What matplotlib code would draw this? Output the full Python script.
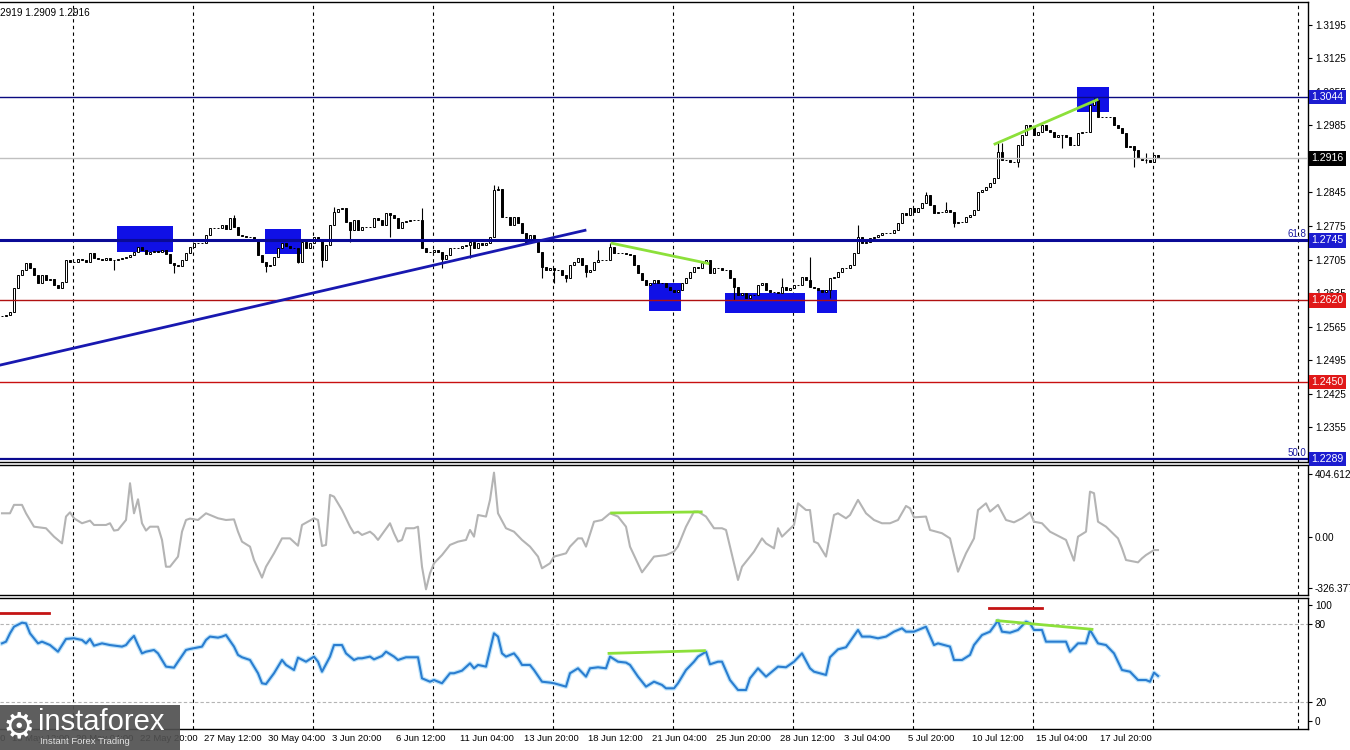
import matplotlib
matplotlib.use('Agg')
import matplotlib.pyplot as plt
from matplotlib.patches import Rectangle
from matplotlib.transforms import blended_transform_factory
import numpy as np

plt.rcParams['font.family'] = ['Liberation Sans', 'DejaVu Sans']

# H4 closes, one per bar
close = [
    1.2587, 1.2589, 1.2596, 1.2646, 1.2673, 1.2683, 1.2698, 1.2687, 1.2673, 1.2656,
    1.2673, 1.2662, 1.2664, 1.2652, 1.2646, 1.2658, 1.2704, 1.2700, 1.2700, 1.2706,
    1.2704, 1.2700, 1.2719, 1.2708, 1.2706, 1.2704, 1.2708, 1.2704, 1.2704, 1.2706,
    1.2708, 1.2710, 1.2714, 1.2721, 1.2731, 1.2725, 1.2716, 1.2721, 1.2723, 1.2721,
    1.2725, 1.2716, 1.2698, 1.2693, 1.2691, 1.2704, 1.2719, 1.2731, 1.2739, 1.2739,
    1.2739, 1.2756, 1.2771, 1.2771, 1.2771, 1.2777, 1.2769, 1.2792, 1.2773, 1.2756,
    1.2754, 1.2752, 1.2752, 1.2746, 1.2714, 1.2700, 1.2691, 1.2693, 1.2710, 1.2729,
    1.2739, 1.2733, 1.2729, 1.2729, 1.2700, 1.2741, 1.2729, 1.2739, 1.2752, 1.2746,
    1.2704, 1.2735, 1.2777, 1.2804, 1.2810, 1.2812, 1.2783, 1.2766, 1.2787, 1.2766,
    1.2773, 1.2773, 1.2773, 1.2792, 1.2787, 1.2777, 1.2802, 1.2798, 1.2792, 1.2771,
    1.2783, 1.2785, 1.2787, 1.2787, 1.2787, 1.2729, 1.2721, 1.2721, 1.2725, 1.2721,
    1.2706, 1.2714, 1.2729, 1.2729, 1.2729, 1.2733, 1.2735, 1.2741, 1.2729, 1.2739,
    1.2735, 1.2739, 1.2752, 1.2850, 1.2852, 1.2794, 1.2794, 1.2777, 1.2794, 1.2781,
    1.2760, 1.2741, 1.2756, 1.2741, 1.2721, 1.2689, 1.2683, 1.2687, 1.2683, 1.2683,
    1.2673, 1.2666, 1.2693, 1.2700, 1.2708, 1.2693, 1.2679, 1.2683, 1.2700, 1.2704,
    1.2704, 1.2704, 1.2731, 1.2719, 1.2719, 1.2719, 1.2716, 1.2714, 1.2693, 1.2677,
    1.2662, 1.2652, 1.2656, 1.2662, 1.2656, 1.2656, 1.2648, 1.2641, 1.2637, 1.2641,
    1.2656, 1.2666, 1.2679, 1.2689, 1.2687, 1.2698, 1.2704, 1.2677, 1.2687, 1.2687,
    1.2683, 1.2683, 1.2666, 1.2648, 1.2631, 1.2635, 1.2625, 1.2631, 1.2631, 1.2652,
    1.2656, 1.2641, 1.2637, 1.2637, 1.2635, 1.2648, 1.2641, 1.2646, 1.2652, 1.2652,
    1.2668, 1.2662, 1.2648, 1.2646, 1.2641, 1.2637, 1.2641, 1.2666, 1.2668, 1.2679,
    1.2687, 1.2687, 1.2693, 1.2719, 1.2752, 1.2739, 1.2741, 1.2750, 1.2752, 1.2756,
    1.2760, 1.2760, 1.2760, 1.2766, 1.2781, 1.2802, 1.2798, 1.2812, 1.2804, 1.2812,
    1.2823, 1.2839, 1.2819, 1.2802, 1.2804, 1.2804, 1.2808, 1.2804, 1.2781, 1.2783,
    1.2783, 1.2794, 1.2798, 1.2808, 1.2846, 1.2850, 1.2856, 1.2864, 1.2875, 1.2929,
    1.2912, 1.2912, 1.2908, 1.2908, 1.2944, 1.2965, 1.2985, 1.2981, 1.2965, 1.2971,
    1.2985, 1.2975, 1.2971, 1.2960, 1.2965, 1.2965, 1.2960, 1.2944, 1.2944, 1.2969,
    1.2971, 1.2971, 1.3027, 1.3038, 1.3002, 1.3002, 1.3002, 1.3002, 1.2985, 1.2979,
    1.2969, 1.2940, 1.2942, 1.2933, 1.2916, 1.2912, 1.2912, 1.2908, 1.2923, 1.2916,
]

# visible wick extremes (bar: price)
high_wick = {58: 1.2798, 83: 1.2814, 105: 1.2812, 123: 1.2860, 124: 1.2858,
             149: 1.2725, 152: 1.2739, 195: 1.2666, 202: 1.2710, 214: 1.2777,
             231: 1.2846, 236: 1.2825, 249: 1.2950, 250: 1.2948, 272: 1.3027,
             273: 1.3042, 286: 1.2927}
low_wick = {28: 1.2683, 43: 1.2677, 66: 1.2679, 74: 1.2698, 80: 1.2689,
            87: 1.2741, 97: 1.2752, 110: 1.2687, 117: 1.2708, 135: 1.2666,
            138: 1.2656, 141: 1.2658, 146: 1.2668, 183: 1.2621, 207: 1.2625,
            238: 1.2773, 254: 1.2898, 265: 1.2937, 283: 1.2898, 286: 1.2906}

cci_bar = [0, 2, 3, 5, 6, 8, 11, 13, 15, 16, 17, 18, 20, 22, 23, 26, 27, 28, 29, 31,
           32, 33, 34, 35, 36, 37, 39, 40, 41, 42, 44, 45, 46, 47, 49, 51, 53, 54, 56, 58,
           59, 60, 62, 63, 65, 66, 68, 70, 72, 74, 75, 78, 79, 80, 81, 82, 83, 85, 87, 88,
           89, 90, 92, 93, 94, 97, 98, 99, 100, 101, 103, 104, 105, 106, 107, 108, 110, 112, 114, 116,
           117, 118, 119, 121, 122, 123, 124, 126, 128, 130, 132, 134, 135, 137, 138, 141, 142, 144, 145, 146,
           148, 150, 152, 154, 156, 157, 160, 163, 166, 168, 169, 171, 173, 174, 176, 178, 180, 181, 182, 184,
           185, 188, 190, 191, 193, 194, 195, 198, 199, 201, 202, 203, 204, 206, 208, 209, 211, 212, 214, 216,
           218, 220, 222, 224, 226, 227, 228, 231, 232, 235, 237, 239, 241, 243, 244, 246, 247, 249, 251, 253,
           255, 257, 258, 260, 262, 266, 268, 269, 271, 272, 273, 274, 276, 279, 280, 281, 284, 285, 286, 288,
           289]
cci_val = [152, 152, 206, 206, 152, 66, 56, 2, -41, 131, 158, 120, 88, 105, 77, 77, 88, 41, 45, 109,
           345, 152, 242, 88, 41, 66, 66, -19, -191, -191, -126, 34, 109, 118, 109, 152, 131, 120, 109, 113,
           34, -30, -62, -148, -261, -191, -105, -9, -9, -56, 77, 120, 109, -58, -51, 270, 259, 173, 66, 24,
           34, 13, 34, 13, -19, 88, 24, -30, -19, 56, 56, 66, -191, -336, -233, -169, -116, -51, -30, -19,
           45, 2, 141, 131, 238, 413, 152, 56, 34, -19, -62, -126, -201, -169, -126, -105, -62, -9, -9, -62,
           98, 109, 152, 131, 66, -62, -227, -126, -116, -94, -60, 66, 163, 163, 131, 56, 56, 45, -62, -276,
           -191, -94, -9, -41, -73, 56, 2, 77, 216, 173, 173, -30, -41, -126, 141, 152, 120, 141, 238, 152,
           109, 88, 88, 109, 199, 184, 126, 131, 45, 24, -9, -223, -105, -9, 173, 216, 163, 206, 109, 94,
           120, 158, 98, 88, 34, -19, -152, 2, 34, 291, 281, 98, 66, -9, -73, -148, -163, -137, -116, -84,
           -84]

rsi_bar = [0, 1, 2, 3, 5, 6, 7, 9, 10, 12, 14, 16, 18, 20, 21, 22, 23, 25, 27, 30,
           31, 32, 33, 34, 35, 36, 38, 39, 40, 41, 43, 44, 46, 47, 50, 51, 52, 54, 55, 56,
           58, 59, 60, 62, 64, 65, 66, 68, 70, 71, 73, 74, 76, 78, 79, 80, 82, 83, 85, 86,
           88, 89, 90, 92, 93, 95, 96, 98, 99, 101, 104, 105, 107, 108, 110, 112, 113, 115, 117, 118,
           119, 121, 123, 124, 125, 126, 128, 129, 130, 132, 133, 135, 137, 138, 141, 142, 144, 146, 147, 149,
           151, 152, 154, 156, 157, 159, 161, 163, 165, 166, 168, 169, 171, 173, 174, 176, 177, 179, 180, 182,
           184, 186, 187, 189, 191, 192, 194, 196, 198, 200, 202, 203, 206, 207, 209, 211, 214, 215, 217, 219,
           221, 223, 225, 226, 228, 231, 233, 234, 237, 238, 240, 242, 243, 245, 247, 249, 250, 252, 254, 256,
           257, 258, 260, 261, 264, 266, 267, 269, 271, 272, 274, 276, 278, 280, 282, 284, 286, 287, 288, 289]
rsi_val = [65.1, 66.4, 72.8, 77.9, 81.0, 80.5, 72.8, 65.1, 66.4, 63.8, 58.7, 68.5, 69.0, 67.7, 65.1, 68.5, 63.3, 65.1, 63.8, 62.6,
           63.8, 67.7, 70.8, 63.8, 57.4, 58.7, 60.0, 57.4, 52.3, 47.2, 46.4, 51.0, 60.0, 60.8, 62.6, 67.7, 70.3, 69.5, 70.3, 71.5,
           62.6, 56.2, 54.4, 52.3, 42.1, 34.4, 33.8, 42.1, 52.3, 48.5, 44.6, 54.1, 51.0, 54.9, 51.0, 43.3, 54.9, 63.8, 63.8, 57.4,
           52.3, 53.6, 53.6, 54.9, 52.8, 55.4, 58.7, 54.9, 52.3, 54.4, 54.4, 38.2, 35.6, 36.9, 34.4, 42.1, 42.1, 44.1, 49.7, 45.9,
           48.5, 47.2, 72.8, 70.3, 57.4, 54.9, 57.4, 53.6, 48.5, 48.5, 44.6, 35.6, 34.9, 34.4, 31.8, 42.1, 45.9, 39.5, 45.9, 46.7,
           45.9, 54.9, 51.0, 50.3, 48.5, 39.5, 31.8, 35.6, 33.1, 30.5, 30.5, 34.4, 44.6, 51.0, 54.9, 58.7, 49.0, 51.0, 51.0, 36.9,
           29.2, 29.2, 38.2, 45.9, 39.5, 42.1, 47.2, 46.7, 51.0, 57.4, 45.9, 43.3, 40.8, 54.4, 60.5, 62.1, 75.4, 70.3, 70.3, 69.0,
           70.3, 74.1, 76.7, 74.1, 74.1, 77.9, 63.8, 65.1, 62.6, 52.3, 52.3, 56.2, 63.8, 71.5, 74.1, 82.6, 74.1, 73.3, 75.4, 81.8,
           80.5, 75.4, 75.4, 66.4, 66.4, 66.4, 58.7, 65.1, 65.1, 75.4, 65.1, 63.8, 57.4, 44.6, 43.3, 36.9, 36.9, 35.6, 42.6, 40.0]

# levels: price, line colour, label box colour, width
levels = [1.3044, 1.2916, 1.2745, 1.2620, 1.2450, 1.2289]
level_line = ['#0a0a80', '#c0c0c0', '#0a0a96', '#b01010', '#c81010', '#0a0a90']
level_box = ['#1c1cd0', '#000000', '#1c1cd0', '#e01818', '#e01818', '#1c1cd0']
level_lw = [1.0, 1.0, 2.2, 1.0, 1.0, 1.6]
price_ticks = [1.3195, 1.3125, 1.3055, 1.2985, 1.2845, 1.2775, 1.2705, 1.2635,
               1.2565, 1.2495, 1.2425, 1.2355]

# boxes: (bar start, bar end, low, high)
boxes = [(28.75, 42.75, 1.2721, 1.2775), (65.75, 74.75, 1.2716, 1.2769),
         (161.75, 169.75, 1.2598, 1.2656), (180.75, 200.75, 1.2593, 1.2635),
         (203.75, 208.75, 1.2593, 1.2641), (268.75, 276.75, 1.3012, 1.3065)]
trend_bars = [-0.5, 145.75]
trend_price = [1.2485, 1.2766]
green1_bars = [152.5, 176.5]
green1_price = [1.2739, 1.2697]
green2_bars = [248.25, 273.75]
green2_price = [1.2946, 1.3038]
cci_green_bars = [152.4, 174.8]
cci_green_val = [154, 161]
rsi_red = [([-0.5, 11.75], [88.7, 88.7]), ([246.75, 259.9], [92.5, 92.5])]
rsi_green = [([151.75, 175.6], [57.4, 59.5]), ([248.75, 272.5], [82.6, 75.9])]

xlabel_bars = [-14, 2, 18, 34, 50, 66, 82, 98, 114, 130, 146, 162, 178, 194, 210, 226, 242, 258, 274]
xlabel_text = ['13 May 20:00', '15 May 12:00', '20 May 04:00', '22 May 20:00', '27 May 12:00',
               '30 May 04:00', '3 Jun 20:00', '6 Jun 12:00', '11 Jun 04:00', '13 Jun 20:00',
               '18 Jun 12:00', '21 Jun 04:00', '25 Jun 20:00', '28 Jun 12:00', '3 Jul 04:00',
               '5 Jul 20:00', '10 Jul 12:00', '15 Jul 04:00', '17 Jul 20:00']

W, H = 1350, 750
fig = plt.figure(figsize=(W / 100, H / 100), dpi=100)
fig.patch.set_facecolor('white')
aw = 1308 / W
ax_p = fig.add_axes([0, 1 - 462 / H, aw, 460 / H])
ax_c = fig.add_axes([0, 1 - 595 / H, aw, 130 / H])
ax_r = fig.add_axes([0, 1 - 729 / H, aw, 131 / H])

x0, x1 = -0.5, 326.5
grid_x = list(np.arange(17.75, 300, 30)) + [324]
for ax in (ax_p, ax_c, ax_r):
    ax.set_xlim(x0, x1)
    ax.set_xticks([])
    ax.spines['left'].set_visible(False)
    for s in ('top', 'bottom', 'right'):
        ax.spines[s].set_linewidth(1.0)
        ax.spines[s].set_color('black')
    ax.yaxis.tick_right()
    ax.tick_params(axis='y', direction='out', length=3, width=0.8, labelsize=7.2, pad=2)
    for gx in grid_x:
        ax.axvline(gx, color='black', lw=0.8, ls=(0, (3, 3)), zorder=1)

# ---- price panel
ax_p.set_ylim(1.2283, 1.3242)
ax_p.set_yticks(price_ticks)
ax_p.set_yticklabels(['%.4f' % t for t in price_ticks])

for b0, b1, lo, hi in boxes:
    ax_p.add_patch(Rectangle((b0, lo), b1 - b0, hi - lo, facecolor='#1010e6',
                             edgecolor='none', zorder=2))

n = len(close)
idx = np.arange(n)
opens = [close[0]] + close[:-1]
highs = [max(o, c) for o, c in zip(opens, close)]
lows = [min(o, c) for o, c in zip(opens, close)]
for k, v in high_wick.items():
    highs[k] = max(highs[k], v)
for k, v in low_wick.items():
    lows[k] = min(lows[k], v)
ax_p.vlines(idx, lows, highs, color='black', lw=0.8, zorder=3)
opens = np.array(opens)
closes = np.array(close)
up = closes >= opens
body = np.maximum(np.abs(closes - opens), 0.00006)
bottom = np.minimum(opens, closes)
ax_p.bar(idx[up], body[up], bottom=bottom[up], width=0.72, color='white',
         edgecolor='black', linewidth=0.7, zorder=4)
ax_p.bar(idx[~up], body[~up], bottom=bottom[~up], width=0.72, color='black',
         edgecolor='black', linewidth=0.7, zorder=4)

tr = blended_transform_factory(ax_p.transAxes, ax_p.transData)
for lv, lc, bc, lw in zip(levels, level_line, level_box, level_lw):
    ax_p.axhline(lv, color=lc, lw=lw, zorder=5)
    ax_p.text(1.0025, lv, '%.4f' % lv, transform=tr, ha='left', va='center', fontsize=7.6,
              color='white', clip_on=False, zorder=10,
              bbox=dict(boxstyle='square,pad=0.22', fc=bc, ec='none'))
ax_p.text(0.9985, 1.2745 + 0.0003, '61.8', transform=tr, ha='right', va='bottom',
          fontsize=7, color='#1a1aa0', zorder=6)
ax_p.text(0.9985, 1.2289 + 0.0003, '50.0', transform=tr, ha='right', va='bottom',
          fontsize=7, color='#1a1aa0', zorder=6)

ax_p.plot(trend_bars, trend_price, color='#1818b0', lw=2.0, zorder=5)
ax_p.plot(green1_bars, green1_price, color='#8ce03a', lw=2.0, zorder=5)
ax_p.plot(green2_bars, green2_price, color='#8ce03a', lw=2.0, zorder=5)
ax_p.text(0.0, 0.988, '2919 1.2909 1.2916', transform=ax_p.transAxes, ha='left',
          va='top', fontsize=7.2, color='black')

# ---- CCI panel
ax_c.set_ylim(-372.5, 462)
ax_c.set_yticks([404.6122, 0, -326.377])
ax_c.set_yticklabels(['404.6122', '0.00', '-326.377'])
ax_c.plot(cci_bar, cci_val, color='#b4b4b4', lw=1.5, zorder=3)
ax_c.plot(cci_green_bars, cci_green_val, color='#8ce03a', lw=2.0, zorder=4)

# ---- RSI panel
ax_r.set_ylim(-0.8, 100)
ax_r.set_yticks([94.6, 80, 20, 5.4])
ax_r.set_yticklabels(['100', '80', '20', '0'])
for lv in (80, 20):
    ax_r.axhline(lv, color='#b4b4b4', lw=0.8, ls=(0, (3, 2)), zorder=2)
ax_r.plot(rsi_bar, rsi_val, color='#bfe4fa', lw=3.2, zorder=3)
ax_r.plot(rsi_bar, rsi_val, color='#2a7dd0', lw=1.5, zorder=4)
for xs, ys in rsi_red:
    ax_r.plot(xs, ys, color='#c41414', lw=2.0, zorder=4)
for xs, ys in rsi_green:
    ax_r.plot(xs, ys, color='#8ce03a', lw=2.0, zorder=4)

trx = blended_transform_factory(ax_r.transData, ax_r.transAxes)
for b, t in zip(xlabel_bars, xlabel_text):
    ax_r.text(b + 0.6, -0.04, t, transform=trx, ha='left', va='top', fontsize=6.8,
              color='black', clip_on=False)

# ---- logo
fig.patches.append(Rectangle((0, 0), 180 / W, 45 / H, transform=fig.transFigure,
                             facecolor='#505050', edgecolor='none', alpha=0.92, zorder=20))
fig.text(3 / W, 1 - 727 / H, '\u2699', fontsize=26, color='white', family='DejaVu Sans',
         ha='left', va='center', zorder=21)
fig.text(38 / W, 1 - 722 / H, 'instaforex', fontsize=21, color='white', ha='left',
         va='center', zorder=21)
fig.text(40 / W, 1 - 742 / H, 'Instant Forex Trading', fontsize=6.8, color='#e0e0e0',
         ha='left', va='center', zorder=21)

fig.savefig('out.png', dpi=100)
